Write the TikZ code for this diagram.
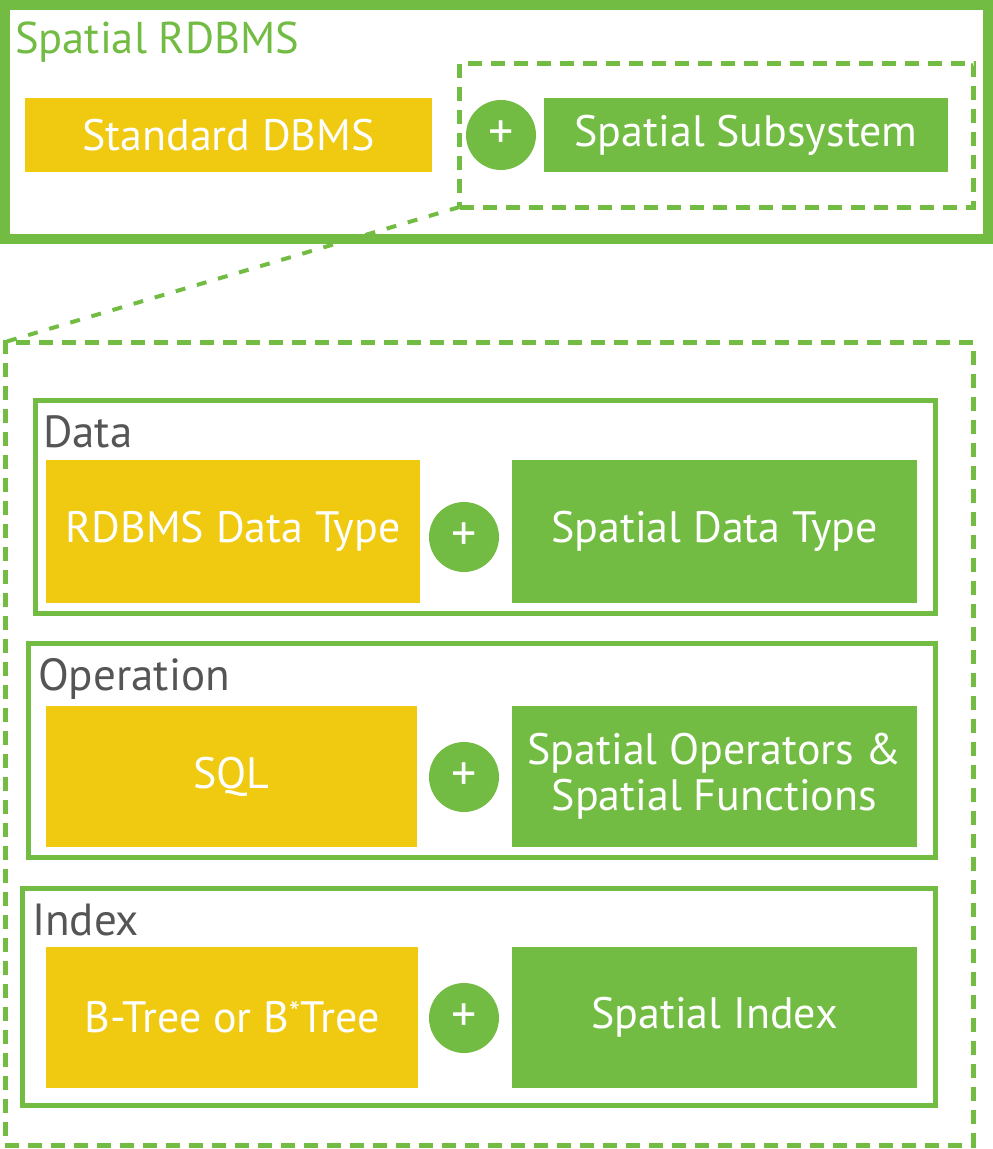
\documentclass[tikz,border=0pt]{standalone}
\usepackage{fontspec}
\setmainfont{PT Sans}
\definecolor{leaf}{HTML}{73BC43}
\definecolor{gold}{HTML}{F0C911}
\definecolor{slate}{HTML}{555555}
\tikzset{
  boxtext/.style={font=\fontsize{44}{46}\selectfont, text=white, align=center},
  ybox/.style={fill=gold, inner sep=0pt, outer sep=0pt, boxtext},
  gbox/.style={fill=leaf, inner sep=0pt, outer sep=0pt, boxtext},
  plusdot/.style={circle, fill=leaf, minimum size=70pt, inner sep=0pt,
    text=white, font=\fontsize{50}{50}\selectfont},
  groupbox/.style={draw=leaf, line width=5pt, inner sep=0pt, outer sep=0pt},
  dashbox/.style={draw=leaf, line width=5pt, dash pattern=on 14pt off 9pt, inner sep=0pt, outer sep=0pt},
  grouplabel/.style={anchor=base west, inner sep=0pt, text=slate, font=\fontsize{45}{45}\selectfont},
  zoomline/.style={draw=leaf, line width=4pt, dash pattern=on 10pt off 12pt}
}
\begin{document}
\begin{tikzpicture}[x=1pt,y=-1pt]
\useasboundingbox (0,0) rectangle (993,1149);

% outer system frame
\node[draw=leaf, line width=10pt, inner sep=0pt, outer sep=0pt,
      minimum width=983pt, minimum height=234pt] (rdbms) at (496.5,122) {};
\node[anchor=base west, inner sep=0pt, text=leaf, font=\fontsize{44.5}{44.5}\selectfont]
  (rdbmslabel) at (15,53) {Spatial RDBMS};

\node[ybox, minimum width=407pt, minimum height=74pt] (std) at (228.5,135) {Standard DBMS};
\node[dashbox, minimum width=514pt, minimum height=144pt] (subframe) at (716.5,135) {};
\node[plusdot] (plus0) at (501,135) {+};
\node[gbox, minimum width=404pt, minimum height=74pt] (sub) at (746,135) {Spatial Subsystem};

% expanded subsystem
\node[dashbox, minimum width=968pt, minimum height=803pt] (detail) at (489,743.5) {};
\draw[zoomline] (subframe.south west) -- (detail.north west);

% data layer
\node[groupbox, minimum width=900pt, minimum height=213pt] (data) at (485,506.5) {};
\node[grouplabel] (datalabel) at (43,447) {Data};
\node[ybox, minimum width=374pt, minimum height=143pt] (rtype) at (233,531.5) {RDBMS Data Type};
\node[plusdot] (plus1) at (464,537) {+};
\node[gbox, minimum width=405pt, minimum height=143pt] (stype) at (714.5,531.5) {Spatial Data Type};

% operation layer
\node[groupbox, minimum width=907pt, minimum height=214pt] (oper) at (481.5,750) {};
\node[grouplabel] (operlabel) at (38,690) {Operation};
\node[ybox, minimum width=371pt, minimum height=141pt] (sql) at (231.5,776.5) {SQL};
\node[plusdot] (plus2) at (464,777) {+};
\node[gbox, minimum width=405pt, minimum height=141pt] (sops) at (714.5,776.5) {Spatial Operators \&\\Spatial Functions};

% index layer
\node[groupbox, minimum width=913pt, minimum height=217pt] (index) at (478.5,996.5) {};
\node[grouplabel] (indexlabel) at (32,935) {Index};
\node[ybox, minimum width=372pt, minimum height=141pt] (btree) at (232,1017.5) {B-Tree or B\textsuperscript{*}Tree};
\node[plusdot] (plus3) at (464,1018) {+};
\node[gbox, minimum width=405pt, minimum height=141pt] (sidx) at (714.5,1017.5) {Spatial Index};
\end{tikzpicture}
\end{document}
